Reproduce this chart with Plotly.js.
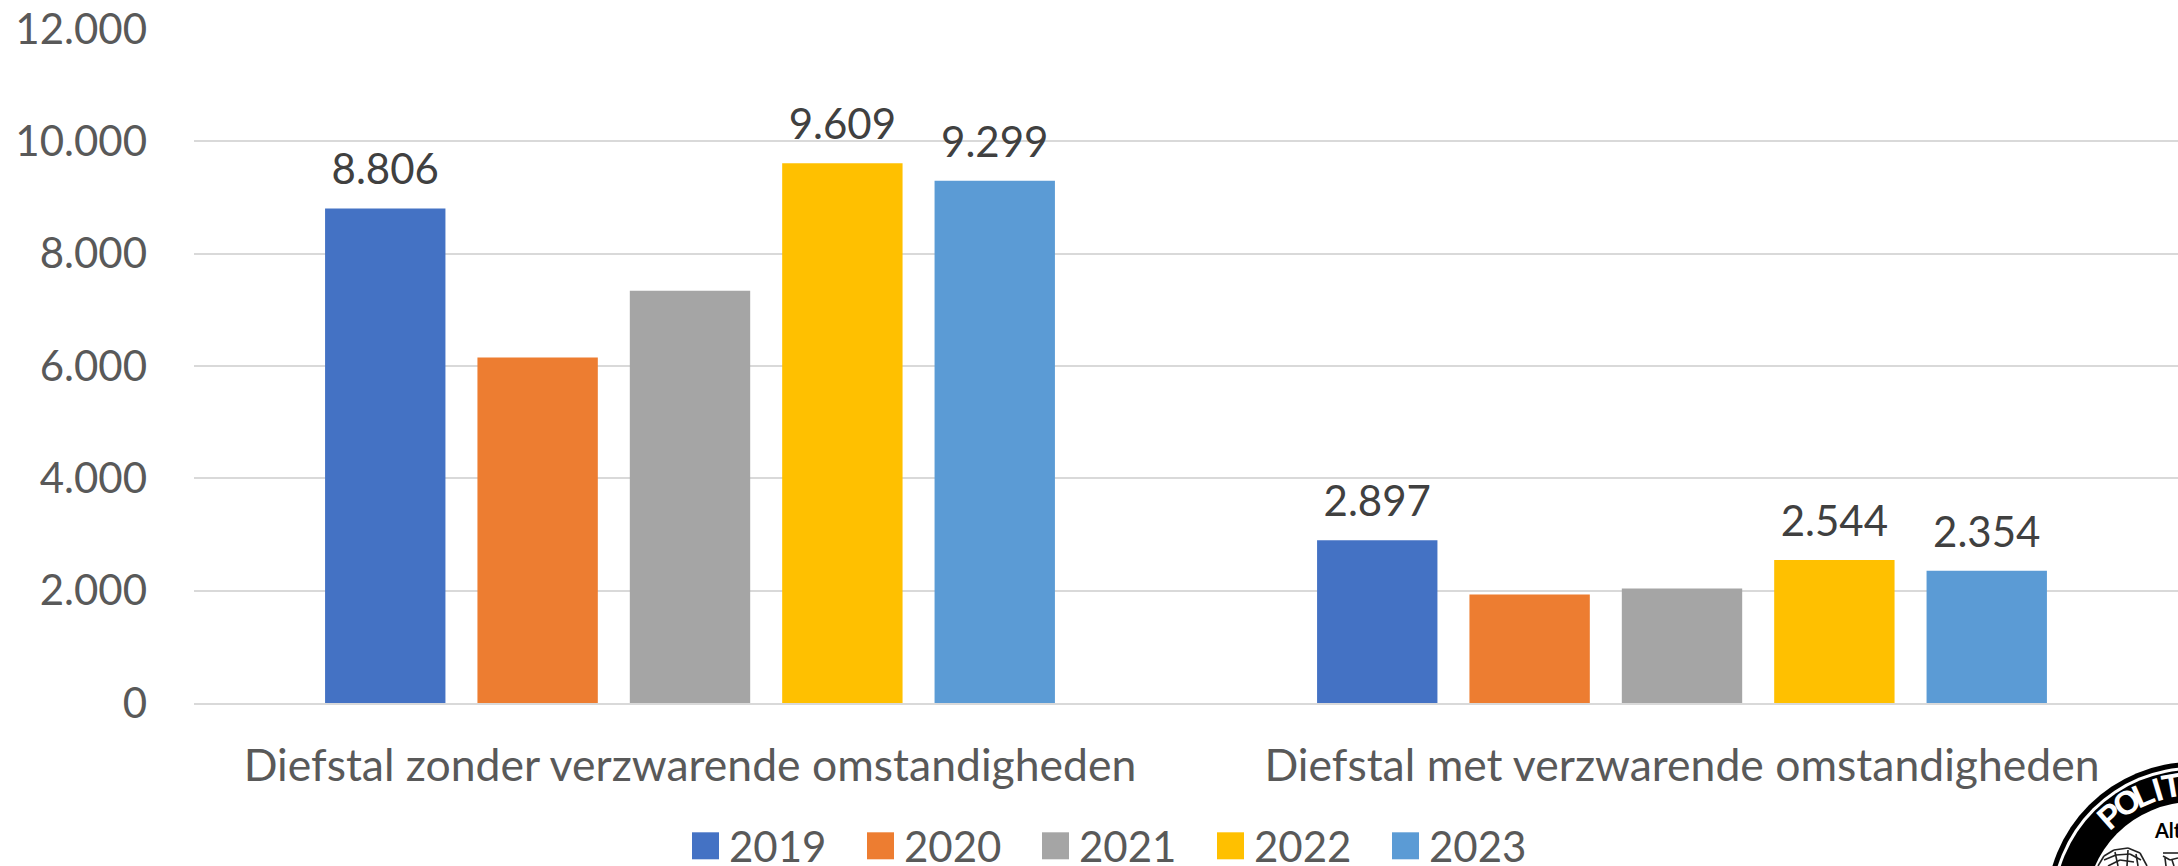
<!DOCTYPE html>
<html><head><meta charset="utf-8">
<script src="https://cdn.plot.ly/plotly-3.0.1.min.js"></script>
<style>html,body{margin:0;padding:0;background:#fff;overflow:hidden}</style>
</head><body><div id="chart" style="width:2178px;height:866px"></div>
<script>
const categories = ['Diefstal zonder verzwarende omstandigheden','Diefstal met verzwarende omstandigheden'];
const years = ['2019','2020','2021','2022','2023'];
const v2019 = [8806,2897];
const v2020 = [6150,1930];
const v2021 = [7340,2040];
const v2022 = [9609,2544];
const v2023 = [9299,2354];
const labels2019 = ['8.806','2.897'];
const labels2020 = ['',''];
const labels2021 = ['',''];
const labels2022 = ['9.609','2.544'];
const labels2023 = ['9.299','2.354'];
const colors = ['#4472C4','#ED7D31','#A5A5A5','#FFC000','#5B9BD5'];
const font = 'Lato, Carlito, Calibri, sans-serif';
const values = [v2019,v2020,v2021,v2022,v2023];
const texts = [labels2019,labels2020,labels2021,labels2022,labels2023];
const traces = years.map((y,i)=>({
  type:'bar', name:y, x:categories, y:values[i], text:texts[i],
  textposition:'outside', textangle:0, cliponaxis:false,
  textfont:{family:font,size:42,color:'#404040'},
  marker:{color:colors[i]}, hoverinfo:'x+y+name'
}));
// Logo (partly cut off in the lower right corner)
const W=2178,H=866,L=194,T=29,PW=1984,PH=674;
const px=x=>(x-L)/PW, py=y=>(T+PH-y)/PH;
const disc=(cx,cy,r,c)=>({type:'circle',xref:'paper',yref:'paper',layer:'above',x0:px(cx-r),x1:px(cx+r),y0:py(cy+r),y1:py(cy-r),fillcolor:c,line:{width:0}});
const logoC=[2193,909];
const shapes=[disc(...logoC,147,'#000'),disc(...logoC,142,'#fff'),disc(...logoC,139,'#000'),disc(...logoC,107,'#fff')];
// engraving strokes of the emblem inside the logo
const strokes=[[2098,866,2104,856],[2104,856,2114,850],[2114,850,2128,848],[2128,848,2140,853],[2140,853,2147,866],
  [2104,860,2116,855],[2116,855,2130,854],[2130,854,2141,860],[2108,866,2120,860],[2120,860,2134,862],[2115,852,2118,866],[2128,850,2127,866],[2136,854,2138,866],
  [2163,856,2170,860],[2170,860,2178,858],[2165,858,2166,866],[2172,860,2174,866],[2163,853,2178,853]];
strokes.forEach(s=>shapes.push({type:'line',xref:'paper',yref:'paper',layer:'above',x0:px(s[0]),y0:py(s[1]),x1:px(s[2]),y1:py(s[3]),line:{color:'#222',width:1.6}}));
const logoLetters=[['P',41.4],['O',32],['L',23.7],['I',16.6],['T',9.6]];
const annotations=logoLetters.map(([t,a])=>({xref:'paper',yref:'paper',showarrow:false,
  x:px(logoC[0]-125*Math.sin(a*Math.PI/180)),y:py(logoC[1]-125*Math.cos(a*Math.PI/180)),
  text:'<b>'+t+'</b>',textangle:-a,font:{family:'Liberation Sans',size:33,color:'#fff'},xanchor:'center',yanchor:'middle'}));
annotations.push({xref:'paper',yref:'paper',showarrow:false,x:px(2152),y:py(830),xanchor:'left',yanchor:'middle',
  text:'<b>Alti</b>',font:{family:font,size:20,color:'#000'}});
const layout = {
  width:W, height:H, paper_bgcolor:'#fff', plot_bgcolor:'#fff',
  margin:{l:L,r:0,t:T,b:H-T-PH},
  barmode:'group', bargap:0.232, bargroupgap:0.21, separators:',.',
  font:{family:font,color:'#595959'},
  xaxis:{type:'category',tickfont:{family:font,size:44.5,color:'#595959'},showgrid:false,
    showline:true,linecolor:'#D9D9D9',linewidth:2,ticks:'',automargin:false,ticklabelstandoff:23},
  yaxis:{range:[0,12000],tickvals:[0,2000,4000,6000,8000,10000,12000],tickformat:',.0f',
    tickfont:{family:font,size:42,color:'#595959'},gridcolor:'#D9D9D9',gridwidth:2,zeroline:false,
    ticks:'',automargin:false,ticklabelstandoff:46},
  showlegend:true, shapes, annotations,
  legend:{orientation:'h',xref:'container',yref:'container',x:682/W,xanchor:'left',y:1-(812/H),yanchor:'top',
    font:{family:font,size:42,color:'#595959'},itemwidth:37,entrywidth:123,entrywidthmode:'pixels',
    bgcolor:'rgba(0,0,0,0)',itemclick:false,itemdoubleclick:false,traceorder:'normal'}
};
Plotly.newPlot('chart',traces,layout,{displayModeBar:false}).then(()=>{
  document.querySelectorAll('.legend .legendbar, .legend .legendpoints path').forEach(p=>{
    p.setAttribute('d','M13.5,13.5H-13.5V-13.5H13.5Z');
  });
  document.querySelectorAll('.barlayer .bartext').forEach(t=>{
    const tr=t.getAttribute('transform')||'';
    t.setAttribute('transform','translate(0,-12) '+tr);
  });
});
</script></body></html>
